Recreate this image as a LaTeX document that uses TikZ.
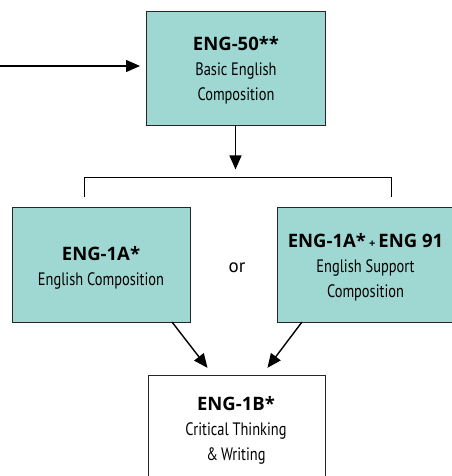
\documentclass[tikz,border=0pt]{standalone}
\usepackage{fontspec}
\setmainfont{PT Sans}
\newfontfamily\condfont{PT Sans}[FakeStretch=0.8]
\newfontfamily\ttlfont{Open Sans}
\usetikzlibrary{arrows.meta}
\definecolor{teal1}{HTML}{9FD8D3}
\tikzset{
  course/.style={draw=black!85, line width=0.9pt, fill=teal1, inner sep=0pt},
  plain/.style={draw=black!85, line width=0.9pt, fill=white, inner sep=0pt},
  flow/.style={line width=1.4pt, -{Triangle[length=14pt,width=12pt]}},
  txt/.style={align=center, inner sep=0pt, font=\fontsize{18}{25}\selectfont},
}
\newcommand{\ttl}[1]{{\ttlfont\bfseries\fontsize{18.5}{25}\selectfont #1}}
\begin{document}
\begin{tikzpicture}[x=1pt,y=1pt]
\useasboundingbox (0,0) rectangle (451,-476);
\node[course, minimum width=179pt, minimum height=114pt] (top) at (235.5,-68) {};
\node[txt, anchor=base] (toptx) at (236,-101)
  {\ttl{ENG-50**}\\{\condfont Basic English}\\{\condfont Composition}};
\node[course, minimum width=178pt, minimum height=115pt] (left) at (101,-264.5) {};
\node[txt, anchor=base] (lefttx) at (101,-285)
  {\ttl{ENG-1A*}\\{\condfont English Composition}};
\node[course, minimum width=180pt, minimum height=115pt] (right) at (367,-264.5) {};
\node[txt, anchor=base] (righttx) at (365.5,-297.5)
  {\ttl{ENG-1A*\,{\fontsize{11}{12}\selectfont+}\,ENG 91}\\{\condfont English Support}\\{\condfont Composition}};
\node[plain, minimum width=177pt, minimum height=110pt] (bot) at (236.5,-430) {};
\node[txt, anchor=base] (bottx) at (236,-460)
  {\ttl{ENG-1B*}\\{\condfont Critical Thinking}\\{\condfont \&\,Writing}};
\node[font=\fontsize{19}{20}\selectfont] (or) at (237,-268) {or};
\coordinate (in) at (0,-66);
\coordinate (topin) at (146,-66);
\coordinate (bl) at (84,-197);
\coordinate (br) at (391,-197);
\coordinate (bt) at (0,-177);
\draw[flow, shorten >=6pt] (in) -- (topin);
\draw[flow, shorten >=6pt] (top.south) -- ++(0,-50);
\draw[line width=0.9pt] (bl) -- (bl |- bt) -- (br |- bt) -- (br);
\draw[flow, shorten >=9pt] (172,-322) -- (213,-375);
\draw[flow, shorten >=9pt] (302,-322) -- (262,-375);
\end{tikzpicture}
\end{document}
